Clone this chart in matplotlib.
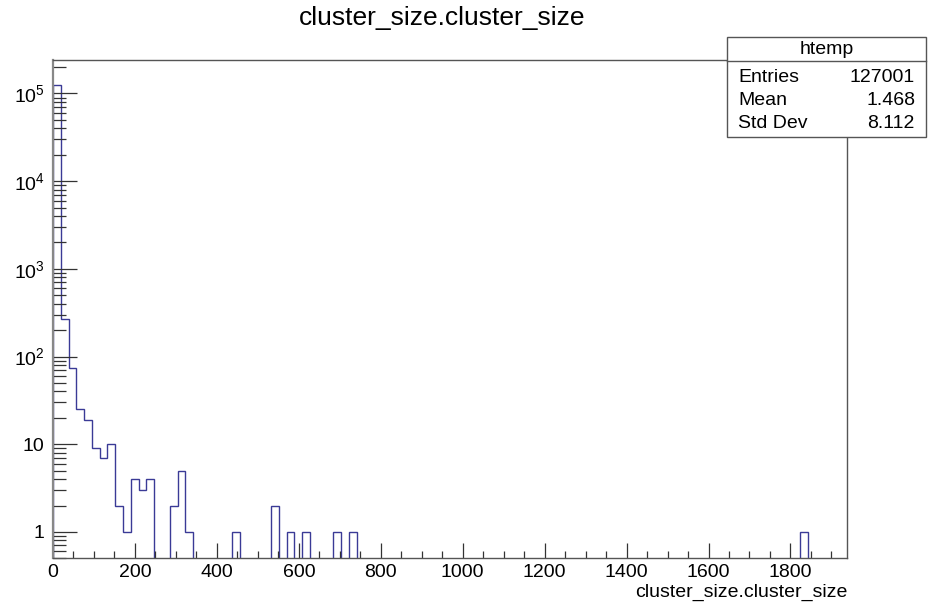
import matplotlib
matplotlib.use("Agg")
import matplotlib.pyplot as plt
from matplotlib.patches import Rectangle
from matplotlib.ticker import LogLocator, MultipleLocator, FuncFormatter, NullFormatter
from matplotlib.lines import Line2D
import numpy as np

plt.rcParams['font.family'] = ['Liberation Sans', 'DejaVu Sans']
plt.rcParams['mathtext.fontset'] = 'custom'
plt.rcParams['mathtext.rm'] = 'Liberation Sans'
plt.rcParams['mathtext.it'] = 'Liberation Sans:italic'
plt.rcParams['mathtext.bf'] = 'Liberation Sans:bold'

# histogram: 102 bins of width 19 starting at 0
bin_width = 19
n_bins = 102
filled_bins = [0, 1, 2, 3, 4, 5, 6, 7, 8, 9, 10, 11, 12,
               15, 16, 17, 23, 28, 30, 32, 36, 38, 96]
filled_counts = [126557, 270, 74, 25, 19, 9, 7, 10, 2, 1, 4, 3, 4,
                 2, 5, 1, 1, 2, 1, 1, 1, 1, 1]

stats_name = "htemp"
stats_labels = ["Entries", "Mean", "Std Dev"]
stats_values = ["127001", "1.468", "8.112"]

title = "cluster_size.cluster_size"
xlabel = "cluster_size.cluster_size"

edges = np.arange(n_bins + 1) * bin_width
counts = np.zeros(n_bins)
counts[filled_bins] = filled_counts

W, H = 934, 604
fig = plt.figure(figsize=(W / 100, H / 100), dpi=100)
ax = fig.add_axes([53 / W, 1 - 558.3 / H, (847 - 53) / W, (558.3 - 60) / H])

ymin, ymax = 0.5, 2.41e5
floor = 1e-3
# empty bins are drawn at a tiny value so the outline drops to the axis
ax.stairs(np.where(counts > 0, counts, floor), edges, baseline=floor,
          color='#3a3a96', linewidth=1.0)

ax.set_yscale('log')
ax.set_xlim(0, n_bins * bin_width)
ax.set_ylim(ymin, ymax)

ax.xaxis.set_major_locator(MultipleLocator(200))
ax.xaxis.set_minor_locator(MultipleLocator(50))
ax.yaxis.set_major_locator(LogLocator(base=10, numticks=20))
ax.yaxis.set_minor_locator(LogLocator(base=10, subs=np.arange(2, 10), numticks=20))
ax.yaxis.set_minor_formatter(NullFormatter())


def ylab(v, pos):
    if v < 0.9:
        return ""
    n = int(round(np.log10(v)))
    if n == 0:
        return "1"
    if n == 1:
        return "10"
    return r"$10^{%d}$" % n


ax.yaxis.set_major_formatter(FuncFormatter(ylab))

ax.tick_params(axis='x', which='major', direction='in', length=10.8, width=0.9,
               color='#333333', labelsize=14, pad=4, top=False)
ax.tick_params(axis='x', which='minor', direction='in', length=5, width=0.9,
               color='#333333', top=False)
ax.tick_params(axis='y', which='major', direction='in', length=17.5, width=0.9,
               color='#333333', labelsize=14, pad=6, right=False)
ax.tick_params(axis='y', which='minor', direction='in', length=9, width=0.9,
               color='#333333', right=False)

for s in ax.spines.values():
    s.set_color('#555555')
    s.set_linewidth(1.0)
ax.spines['left'].set_linewidth(1.6)
ax.spines['left'].set_color('#888888')

fig.text(442.5 / W, 1 - 18 / H, title, ha='center', va='center', fontsize=19)
fig.text(847 / W, 1 - 592 / H, xlabel, ha='right', va='center', fontsize=14)

# statistics box
bx0, bx1, by0, by1 = 727.3, 926, 37.3, 137.3
box = Rectangle((bx0 / W, 1 - by1 / H), (bx1 - bx0) / W, (by1 - by0) / H,
                transform=fig.transFigure, facecolor='white',
                edgecolor='#555555', linewidth=1.0, zorder=10)
fig.patches.append(box)
fig.lines.append(Line2D([bx0 / W, bx1 / W], [1 - 60.7 / H, 1 - 60.7 / H],
                        transform=fig.transFigure, color='#555555',
                        linewidth=1.0, zorder=11))
fig.text((bx0 + bx1) / 2 / W, 1 - 49 / H, stats_name, ha='center', va='center',
         fontsize=14, zorder=12)
for i, (lab, val) in enumerate(zip(stats_labels, stats_values)):
    y = 1 - (77 + 23.5 * i) / H
    fig.text(738 / W, y, lab, ha='left', va='center', fontsize=14, zorder=12)
    fig.text(915 / W, y, val, ha='right', va='center', fontsize=14, zorder=12)

fig.savefig("out.png", dpi=100)
